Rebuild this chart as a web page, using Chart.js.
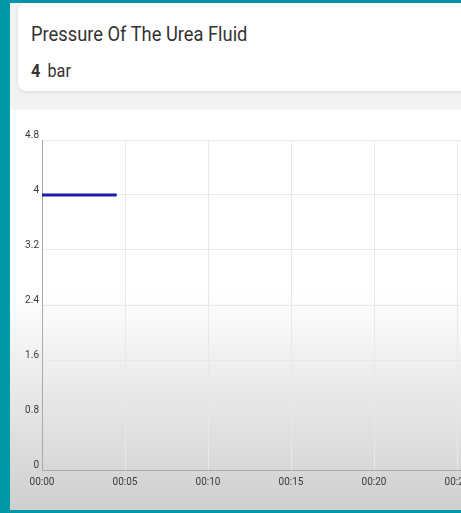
<!DOCTYPE html>
<html>
<head>
<meta charset="utf-8">
<script src="https://cdn.jsdelivr.net/npm/chart.js@4/dist/chart.umd.min.js"></script>
<style>
  body { margin: 0; width: 461px; height: 513px; overflow: hidden; background: #0097a7; font-family: Roboto, sans-serif; position: relative; }
  .panel { position: absolute; left: 10px; top: 3px; width: 460px; height: 507px; background: #f3f3f3; }
  .card { position: absolute; left: 18px; top: 3px; width: 470px; height: 88px; background: #fff; border-radius: 8px; box-shadow: 0 1px 4px rgba(0,0,0,0.10); }
  .title { position: absolute; left: 13px; top: 19px; font-size: 20px; color: #333; transform: scaleX(0.915); transform-origin: left; white-space: nowrap; }
  .value { position: absolute; left: 13px; top: 57px; font-size: 18px; color: #333; transform: scaleX(0.9); transform-origin: left; white-space: nowrap; }
  .value b { margin-right: 8px; }
  .chart { position: absolute; left: 10px; top: 110px; width: 451px; height: 400px; overflow: hidden;
           background: linear-gradient(#fff 0%, #fff 45%, #cfcfcf 100%); }
  canvas { position: absolute; left: 0; top: 0; }
</style>
</head>
<body>
<div class="panel"></div>
<div class="card">
  <div class="title">Pressure Of The Urea Fluid</div>
  <div class="value"><b>4</b>bar</div>
</div>
<div class="chart"><canvas id="c" width="560" height="400"></canvas></div>
<script>
// minutes since start
const times = [0, 4.5];
const pressure = [4, 4];
const yTicks = [0, 0.8, 1.6, 2.4, 3.2, 4, 4.8];

const fmtTime = m => '00:' + String(m).padStart(2, '0');

const ctx = document.getElementById('c').getContext('2d');
_ = new Chart(ctx, {
    type: 'line',
    data: {
        datasets: [{
            data: times.map((t, i) => ({ x: t, y: pressure[i] })),
            borderColor: '#1c1ca6',
            borderWidth: 3,
            pointRadius: 0,
            tension: 0
        }]
    },
    options: {
        responsive: false,
        animation: false,
        layout: { padding: { top: 30, right: 30, left: 0, bottom: 0 } },
        plugins: { legend: { display: false }, tooltip: { enabled: false } },
        scales: {
            x: {
                type: 'linear',
                min: 0,
                max: 30,
                afterFit: s => { s.height = 40; },
                grid: { color: '#e8e8e8', drawTicks: false },
                border: { color: '#aaaaaa', width: 1 },
                ticks: {
                    stepSize: 5,
                    padding: 6,
                    color: '#3a3a3a',
                    font: { family: 'Roboto', size: 10 },
                    maxRotation: 0,
                    callback: v => fmtTime(v)
                }
            },
            y: {
                min: 0,
                max: 4.8,
                afterFit: s => { s.width = 32; },
                afterBuildTicks: s => { s.ticks = yTicks.map(v => ({ value: v })); },
                grid: { color: '#e8e8e8', drawTicks: false },
                border: { color: '#aaaaaa', width: 1 },
                ticks: {
                    padding: 3,
                    labelOffset: -5,
                    color: '#3a3a3a',
                    font: { family: 'Roboto', size: 10 },
                    callback: v => String(+v.toFixed(1))
                }
            }
        }
    }
});
</script>
</body>
</html>
